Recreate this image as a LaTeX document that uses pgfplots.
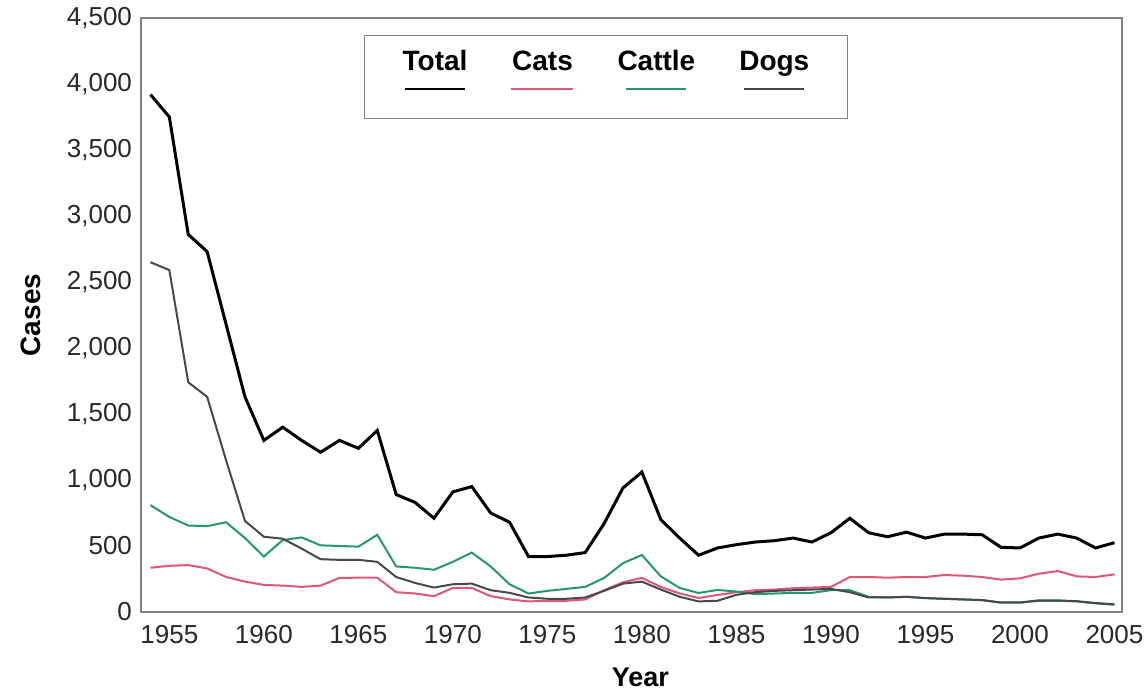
\documentclass[border=0pt]{standalone}
\usepackage{fontspec}
\setmainfont{Liberation Sans}
\usepackage{pgfplots}
\usepackage{pgfplotstable}
\pgfplotsset{compat=1.18}
\definecolor{catsc}{RGB}{224,86,122}
\definecolor{cattlec}{RGB}{36,150,118}
\definecolor{dogsc}{RGB}{72,72,72}
\definecolor{axc}{RGB}{130,130,130}
\definecolor{tickc}{RGB}{40,40,40}

\pgfplotstableread{
year total cats cattle dogs
1954 3920 335 810 2650
1955 3750 350 720 2590
1956 2860 355 655 1740
1957 2730 330 650 1630
1958 2180 265 680 1150
1959 1630 230 560 690
1960 1300 205 420 570
1961 1400 200 545 555
1962 1300 190 565 480
1963 1210 200 505 400
1964 1300 258 500 395
1965 1240 260 495 395
1966 1375 260 585 380
1967 890 150 345 265
1968 830 140 335 220
1969 710 120 320 185
1970 910 182 380 210
1971 950 182 450 215
1972 750 120 345 165
1973 680 95 210 145
1974 420 80 140 110
1975 420 85 160 100
1976 430 85 175 100
1977 450 95 190 110
1978 670 165 258 160
1979 940 225 370 215
1980 1060 258 432 230
1981 700 190 270 170
1982 560 140 182 115
1983 430 106 144 80
1984 485 129 167 85
1985 510 150 155 130
1986 530 165 135 150
1987 540 170 140 160
1988 560 180 145 165
1989 530 185 145 170
1990 600 190 165 175
1991 710 265 165 150
1992 600 265 115 110
1993 570 260 110 110
1994 605 265 115 115
1995 560 265 105 105
1996 590 280 100 100
1997 590 275 95 95
1998 585 265 90 90
1999 490 245 70 72
2000 485 255 70 72
2001 560 290 85 88
2002 590 310 85 88
2003 560 270 80 82
2004 485 265 65 68
2005 525 285 55 58
}\datatable

\newcommand{\legent}[3]{\shortstack{#1\vphantom{Tlgy}\\[3pt]\textcolor{#2}{\rule{#3}{1.2pt}}}}

\begin{document}
\begin{tikzpicture}
\begin{axis}[name=ax, scale only axis, width=490.5pt, height=297pt,
  xmin=1953.5, xmax=2005.4, ymin=0, ymax=4500,
  xtick={1955,1960,...,2005}, ytick={0,500,...,4500},
  major tick length=0pt, minor tick num=0,
  axis line style={axc, line width=0.6pt},
  scaled y ticks=false,
  /pgf/number format/assume math mode=true,
  /pgf/number format/1000 sep={,},
  xticklabel style={font=\fontsize{13}{15}\selectfont, text=tickc, yshift=-3pt, /pgf/number format/1000 sep={}},
  yticklabel style={font=\fontsize{13}{15}\selectfont, text=tickc, xshift=-1pt},
  xlabel={\textbf{Year}}, ylabel={\textbf{Cases}},
  xlabel style={font=\fontsize{13.5}{15}\selectfont, at={(axis description cs:0.509,-0.110)}, anchor=center},
  ylabel style={font=\fontsize{14}{16}\selectfont, at={(axis description cs:-0.1121,0.5)}, anchor=center, rotate=0},
  legend columns=4,
  legend image code/.code={},
  legend style={at={(axis description cs:0.474,0.971)}, anchor=north, draw=axc, line width=0.6pt,
    inner xsep=19pt, inner ysep=7pt,
    nodes={inner sep=0pt, text depth=7pt, font=\fontsize{14}{16}\selectfont\bfseries},
    /tikz/every even column/.append style={column sep=22pt}},
]
\addplot[black, line width=1.5pt] table[x=year, y=total] {\datatable};
\addlegendentry{\legent{Total}{black}{30pt}}
\addplot[catsc, line width=1pt] table[x=year, y=cats] {\datatable};
\addlegendentry{\legent{Cats}{catsc}{31pt}}
\addplot[cattlec, line width=1pt] table[x=year, y=cattle] {\datatable};
\addlegendentry{\legent{Cattle}{cattlec}{30pt}}
\addplot[dogsc, line width=1pt] table[x=year, y=dogs] {\datatable};
\addlegendentry{\legent{Dogs}{dogsc}{30pt}}
\end{axis}
\pgfresetboundingbox
\path ([xshift=-70.5pt,yshift=-40pt]ax.south west) rectangle ([xshift=11pt,yshift=9pt]ax.north east);
\end{tikzpicture}
\end{document}
